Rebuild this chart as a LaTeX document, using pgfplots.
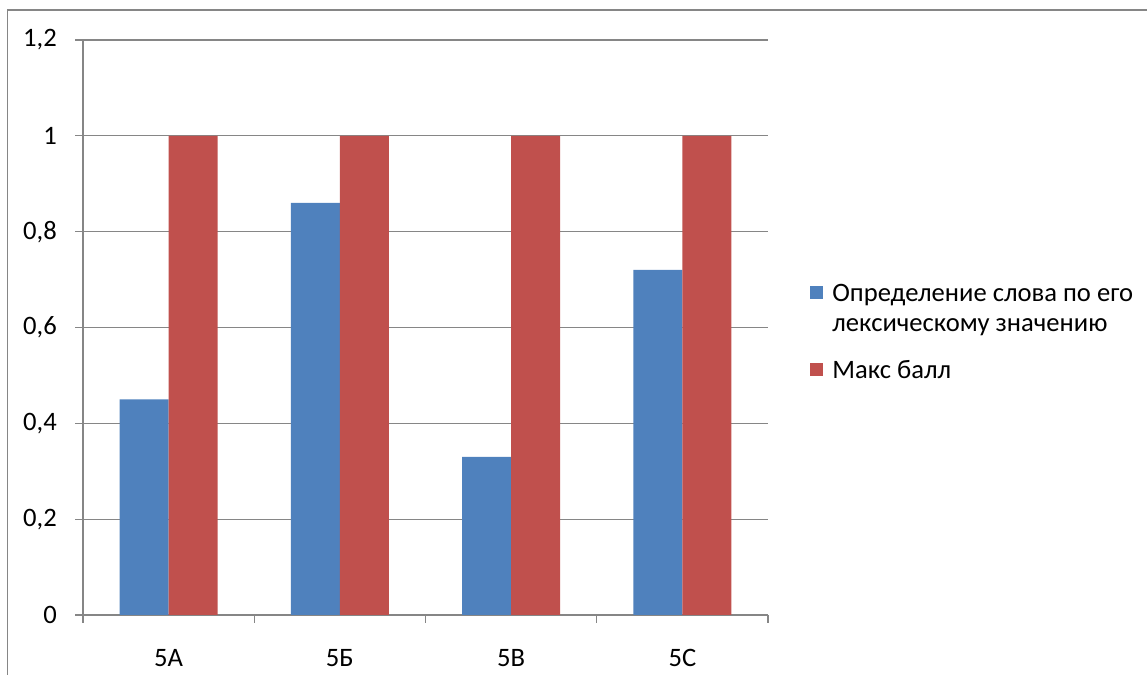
\documentclass[border=0pt]{standalone}
\usepackage{pgfplots}
\pgfplotsset{compat=1.18}
\usepackage{fontspec}
\setmainfont{Carlito}
\definecolor{xlblue}{HTML}{4F81BD}
\definecolor{xlred}{HTML}{C0504D}
\definecolor{xlgray}{HTML}{868686}
\begin{document}
\fontsize{13.3pt}{15pt}\selectfont
\begin{tikzpicture}
\useasboundingbox (0pt,0pt) rectangle (573.5pt,337.5pt);
\draw[xlgray, line width=0.8pt] (3.8pt,0pt) -- (3.8pt,332.5pt) -- (573.5pt,332.5pt);
\begin{axis}[
  at={(41.5pt,30pt)}, anchor=south west, scale only axis,
  width=342.5pt, height=287.5pt,
  xmin=-0.5, xmax=3.5, ymin=0, ymax=1.2,
  axis lines*=left,
  axis line style={xlgray, line width=0.6pt},
  every tick/.style={xlgray, line width=0.6pt},
  tick align=outside,
  major tick length=4pt,
  xtick={-0.5,0.5,1.5,2.5,3.5},
  xticklabels={},
  extra x ticks={0,1,2,3},
  extra x tick labels={5А,5Б,5В,5С},
  extra x tick style={major tick length=0pt},
  xticklabel style={yshift=-12.5pt},
  ytick={0,0.2,0.4,0.6,0.8,1,1.2},
  yticklabel style={xshift=-4.5pt},
  ymajorgrids,
  grid style={xlgray, line width=0.6pt},
  /pgf/number format/use comma,
  /pgf/number format/assume math mode=true,
  tick label style={font=\fontsize{13.3pt}{15pt}\selectfont},
  legend style={draw=none, fill=none, inner sep=0pt, at={(axis description cs:1.0613,0.5826)}, anchor=north west,
    nodes={inner sep=0pt, text depth={}},
    cells={anchor=base west}, font=\fontsize{13.3pt}{15pt}\selectfont, row sep=8.5pt},
  legend image code/.code={\fill[#1] (0pt,1pt) rectangle (6.5pt,7.5pt); \path (11pt,1pt);},
]
\addplot[ybar, bar width=24.5pt, bar shift=-12.25pt, fill=xlblue, draw=none] coordinates {(0,0.45) (1,0.86) (2,0.33) (3,0.72)};
\addlegendentry{\begin{tabular}[t]{@{}l@{}}Определение слова по его\\лексическому значению\end{tabular}}
\addplot[ybar, bar width=24.5pt, bar shift=12.25pt, fill=xlred, draw=none] coordinates {(0,1) (1,1) (2,1) (3,1)};
\addlegendentry{\begin{tabular}[t]{@{}l@{}}Макс балл\end{tabular}}
\end{axis}
\end{tikzpicture}
\end{document}
